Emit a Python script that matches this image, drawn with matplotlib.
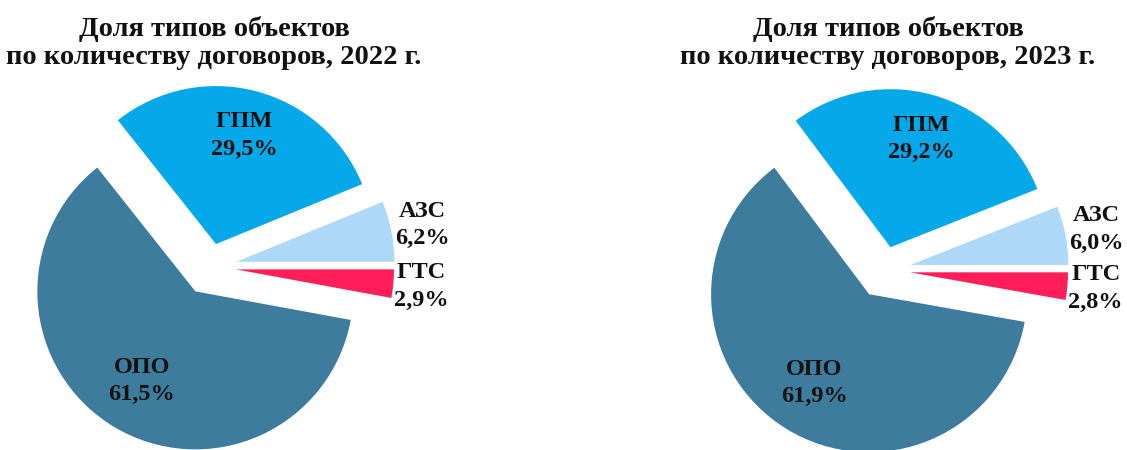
import numpy as np
import matplotlib
matplotlib.use("Agg")
import matplotlib.pyplot as plt

plt.rcParams["font.family"] = ["Liberation Serif", "DejaVu Serif"]
plt.rcParams["font.weight"] = "bold"

# данные
categories = ["АЗС", "ГПМ", "ОПО", "ГТС"]
shares_2022 = [6.2, 29.5, 61.5, 2.9]
shares_2023 = [6.0, 29.2, 61.9, 2.8]
years = ["2022", "2023"]

colors = ["#ADD8F8", "#05A8E8", "#3E7C9D", "#FF1E5A"]
explode = [0.17, 0.15, 0.18, 0.165]
label_dist = [1.20, 0.71, 0.66, 1.18]

W, H = 1127, 450
R = 158.0  # радиус в пикселях
fig = plt.figure(figsize=(W / 100, H / 100), dpi=100)


def draw_pie(left_px, width_px, cx, cy, values, year):
    ax = fig.add_axes([left_px / W, 0, width_px / W, 1])
    wedges, _ = ax.pie(values, colors=colors, explode=explode, startangle=0,
                       counterclock=True, radius=1.0,
                       wedgeprops=dict(linewidth=0))
    ax.set_aspect("auto")
    x0 = cx - left_px
    y0 = H - cy
    ax.set_xlim(-x0 / R, (width_px - x0) / R)
    ax.set_ylim(-y0 / R, (H - y0) / R)
    ax.axis("off")
    for w, cat, v, d in zip(wedges, categories, values, label_dist):
        mid = np.deg2rad((w.theta1 + w.theta2) / 2)
        x = w.center[0] + d * np.cos(mid)
        y = w.center[1] + d * np.sin(mid)
        txt = f"{cat}\n{v:.1f}%".replace(".", ",")
        ax.text(x, y, txt, ha="center", va="center", fontsize=17.5,
                fontweight="bold", color="#111111", linespacing=1.4)
    fig.text((cx + 4) / W, 1 - 64 / H,
             f"Доля типов объектов\nпо количеству договоров, {year} г.",
             ha="center", va="baseline", fontsize=20.5, fontweight="bold",
             color="#111111", linespacing=1.15)


draw_pie(0, W / 2, 210, 267, shares_2022, years[0])
draw_pie(W / 2, W / 2, 884, 270, shares_2023, years[1])

fig.savefig("out.png", dpi=100)
